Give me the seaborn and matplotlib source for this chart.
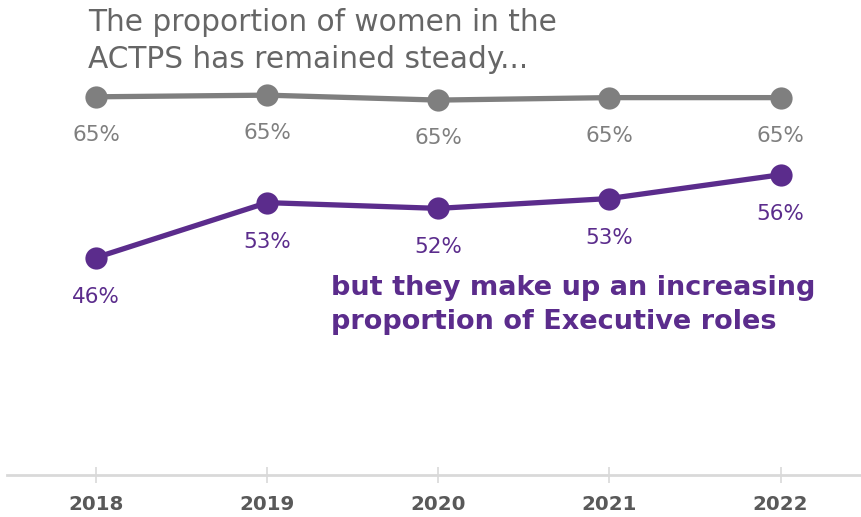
import matplotlib
matplotlib.use("Agg")
import matplotlib.pyplot as plt
import seaborn as sns
import pandas as pd

years = ["2018", "2019", "2020", "2021", "2022"]
actps = [65.5, 65.7, 65.1, 65.4, 65.4]
executive = [45.9, 52.6, 51.9, 53.1, 56.0]
actps_labels = ["65%", "65%", "65%", "65%", "65%"]
exec_labels = ["46%", "53%", "52%", "53%", "56%"]

GRAY = "#7F7F7F"
PURPLE = "#5B2C8C"

sns.set_theme(style="white")
plt.rcParams["font.family"] = ["DejaVu Sans"]

df = pd.DataFrame({
    "x": list(range(len(years))) * 2,
    "value": actps + executive,
    "series": ["ACTPS"] * len(years) + ["Executive"] * len(years),
})

fig = plt.figure(figsize=(8.61, 5.17), dpi=100)
ax = fig.add_axes([7 / 861, 42 / 517, 854 / 861, 475 / 517])

sns.lineplot(data=df, x="x", y="value", hue="series",
             palette={"ACTPS": GRAY, "Executive": PURPLE},
             marker="o", markersize=16, linewidth=3.8, markeredgewidth=0,
             legend=False, ax=ax)

for i, (v, lab) in enumerate(zip(actps, actps_labels)):
    ax.annotate(lab, (i, v), xytext=(0, -38), textcoords="offset pixels",
                ha="center", va="center", fontsize=15.5, color=GRAY)
for i, (v, lab) in enumerate(zip(executive, exec_labels)):
    ax.annotate(lab, (i, v), xytext=(0, -39), textcoords="offset pixels",
                ha="center", va="center", fontsize=15.5, color=PURPLE)

ax.set_xlim(-0.52, 4.47)
ax.set_ylim(19.4, 77.3)
ax.set_xticks(range(len(years)))
ax.set_xticklabels(years, fontsize=14.3, fontweight="bold", color="#595959")
ax.set_yticks([])
ax.set_xlabel("")
ax.set_ylabel("")
for s in ["top", "left", "right"]:
    ax.spines[s].set_visible(False)
ax.spines["bottom"].set_color("#D9D9D9")
ax.spines["bottom"].set_linewidth(2)
ax.tick_params(axis="x", bottom=True, length=11, width=1.2, color="#D9D9D9",
               direction="inout", pad=9)

fig.text(88 / 861, 1 - 41 / 517, "The proportion of women in the\nACTPS has remained steady...",
         ha="left", va="center", fontsize=21.3, color="#666666", linespacing=1.35)
fig.text(331 / 861, 1 - 305 / 517, "but they make up an increasing\nproportion of Executive roles",
         ha="left", va="center", fontsize=19.5, fontweight="bold", color=PURPLE, linespacing=1.38)

fig.savefig("out.png", dpi=100, facecolor="white")
